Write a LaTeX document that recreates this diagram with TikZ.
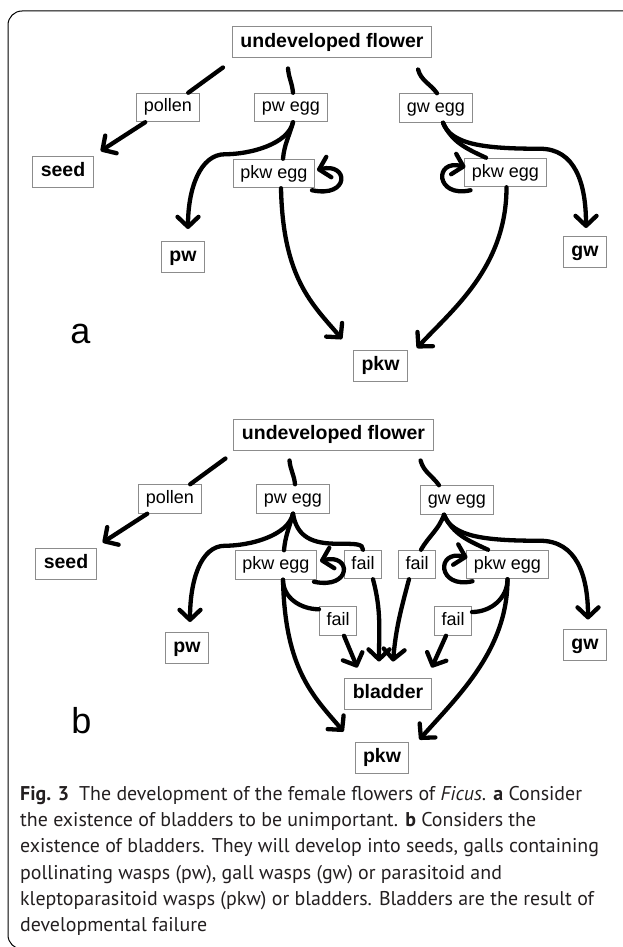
\documentclass[tikz,border=0pt]{standalone}
\usepackage{fontspec}
\usepackage{tikz}
\usetikzlibrary{arrows.meta}
\newfontfamily\arialfont{Liberation Sans}
\newfontfamily\capfont{PT Sans}
\definecolor{boxgray}{HTML}{8C8C8C}
\definecolor{captext}{HTML}{231F20}

\begin{document}
\begin{tikzpicture}[x=1pt,y=1pt,
  box/.style={draw=boxgray, line width=1pt, fill=white, inner xsep=7pt, inner ysep=5.75pt,
    text height=13pt, text depth=4pt, font=\arialfont\fontsize{18}{20}\selectfont},
  bbox/.style={box, inner xsep=8pt, inner ysep=6.4pt, text height=14pt, text depth=4.2pt,
    font=\arialfont\bfseries\fontsize{19.5}{22}\selectfont},
  conn/.style={line width=4.3pt, line cap=round},
  arr/.style={conn, -{Straight Barb[length=10pt,width=21pt,round]}},
  panel/.style={anchor=base, font=\arialfont\fontsize{36}{40}\selectfont}]

\useasboundingbox (0,0) rectangle (622,-947);
\draw[line width=1pt, rounded corners=14pt] (640,-11) -- (8,-11) -- (8,-949) -- (640,-949); % frame

% Panel a: bladders left out
\node[bbox] (a flower) at (332,-42.5) {undeveloped flower};
\node[box] (a pollen) at (168,-107.5) {pollen};
\node[box] (a pwegg) at (291,-107.5) {pw egg};
\node[box] (a gwegg) at (436,-108) {gw egg};
\node[bbox] (a seed) at (63,-172) {seed};
\node[box] (a pkwegg1) at (274,-173.5) {pkw egg};
\node[box] (a pkwegg2) at (505.5,-172.5) {pkw egg};
\node[bbox] (a pw) at (183,-257) {pw};
\node[bbox] (a gw) at (585,-252) {gw};
\node[bbox] (a pkw) at (380.5,-366) {pkw};
\node[panel] (a label) at (80.5,-343) {a};

\draw[conn] ([shift={(-9,-9)}]a flower.south west) -- (a pollen); % pollination
\draw[arr] (a pollen) -- ([shift={(7,5)}]a seed.north east);
\draw[conn] ([shift={(-44,-10)}]a flower.south) to[out=-85,in=95] ([xshift=2pt]a pwegg.north);
\draw[arr] ([xshift=2pt]a pwegg.south) .. controls +(-5,-22) and +(25,0) .. ++(-68,-32)
  .. controls +(-25,0) and +(0,40) .. ([shift={(5,12)}]a pw.north);
\draw[conn] ([xshift=2pt]a pwegg.south) to[out=-105,in=85] ([xshift=9pt]a pkwegg1.north);
\draw[arr] ([xshift=7pt]a pkwegg1.south) .. controls +(2,-90) and +(-30,35) .. ([shift={(-11,11)}]a pkw.north west);
\draw[arr] ([shift={(-3,-2)}]a pkwegg1.south east) .. controls +(38,-8) and +(32,8) .. ([shift={(2,3.5)}]a pkwegg1.east); % loop
\draw[conn] ([shift={(-14,-11)}]a flower.south east) to[out=-75,in=125] ([xshift=1pt]a gwegg.north);
\draw[arr] ([xshift=7pt]a gwegg.south) .. controls +(8,-22) and +(-55,0) .. ++(97,-26)
  .. controls +(35,0) and +(0,45) .. ([shift={(1,8)}]a gw.north);
\draw[conn] ([xshift=7pt]a gwegg.south) to[out=-65,in=155] ([xshift=-19.5pt]a pkwegg2.north);
\draw[arr] ([xshift=1pt]a pkwegg2.south) .. controls +(0,-80) and +(35,38) .. ([shift={(9,2)}]a pkw.north east);
\draw[arr] ([shift={(6,-3)}]a pkwegg2.south west) .. controls +(-35,-8) and +(-32,8) .. ([shift={(1,5.5)}]a pkwegg2.west); % loop

% Panel b: with bladders
\node[bbox] (b flower) at (333.5,-434.5) {undeveloped flower};
\node[box] (b pollen) at (170,-499) {pollen};
\node[box] (b pwegg) at (293,-499) {pw egg};
\node[box] (b gwegg) at (457,-500) {gw egg};
\node[bbox] (b seed) at (66,-563.5) {seed};
\node[box] (b pkwegg1) at (276,-565) {pkw egg};
\node[box] (b fail1) at (363,-564.5) {fail};
\node[box] (b fail2) at (417,-564.5) {fail};
\node[box] (b pkwegg2) at (507.5,-564.5) {pkw egg};
\node[box] (b fail3) at (338,-621) {fail};
\node[box] (b fail4) at (453,-621) {fail};
\node[bbox] (b pw) at (187,-648) {pw};
\node[bbox] (b gw) at (585,-644.5) {gw};
\node[bbox] (b bladder) at (388,-693.5) {bladder};
\node[bbox] (b pkw) at (382,-757.5) {pkw};
\node[panel] (b label) at (81.5,-733) {b};

\draw[conn] ([shift={(-8,-8)}]b flower.south west) -- (b pollen); % pollination
\draw[arr] (b pollen) -- ([shift={(6,5)}]b seed.north east);
\draw[conn] ([shift={(-44,-10)}]b flower.south) to[out=-85,in=95] ([xshift=2pt]b pwegg.north);
\draw[arr] (b pwegg.south) .. controls +(-5,-22) and +(25,0) .. ++(-68,-32)
  .. controls +(-25,0) and +(0,40) .. ([shift={(3,10)}]b pw.north);
\draw[conn] (b pwegg.south) to[out=-105,in=85] ([xshift=8pt]b pkwegg1.north);
\draw[conn] (b pwegg.south) .. controls +(4,-24) and +(-25,0) .. ++(45,-30)
  .. controls +(18,0) and +(0,6) .. (b fail1.north);
\draw[arr] ([xshift=7pt]b pkwegg1.south) .. controls +(2,-90) and +(-30,35) .. ([shift={(-11,10)}]b pkw.north west);
\draw[conn] ([xshift=7pt]b pkwegg1.south) to[out=-90,in=180] ([yshift=-3pt]b fail3.north west);
\draw[arr] ([shift={(-3,-2)}]b pkwegg1.south east) .. controls +(38,-8) and +(32,8) .. ([shift={(3,4)}]b pkwegg1.east); % loop
\draw[arr] ([xshift=6pt]b fail3.south) -- ([shift={(13,10)}]b bladder.north west);
\draw[arr] ([xshift=10pt]b fail1.south) to[out=-75,in=90] ([shift={(-9,16)}]b bladder.north);
\draw[arr] ([xshift=-8pt]b fail2.south) to[out=-105,in=85] ([shift={(5,16)}]b bladder.north);
\draw[conn] ([shift={(-13,-10)}]b flower.south east) to[out=-75,in=125] ([xshift=-18pt]b gwegg.north);
\draw[conn] ([xshift=-13pt]b gwegg.south) to[out=-110,in=60] ([xshift=4pt]b fail2.north);
\draw[conn] ([xshift=-13pt]b gwegg.south) to[out=-65,in=155] ([xshift=-19.5pt]b pkwegg2.north);
\draw[arr] ([xshift=-13pt]b gwegg.south) .. controls +(8,-22) and +(-55,0) .. ++(96,-26)
  .. controls +(36,0) and +(0,45) .. ([shift={(3,9)}]b gw.north);
\draw[conn] (b pkwegg2.south) to[out=-90,in=0] ([yshift=9pt]b fail4.east);
\draw[arr] (b pkwegg2.south) .. controls +(0,-70) and +(40,45) .. ([shift={(10,2)}]b pkw.north east);
\draw[arr] ([xshift=-7pt]b fail4.south) -- ([yshift=10pt]b bladder.north east);
\draw[arr] ([shift={(6,-2)}]b pkwegg2.south west) .. controls +(-35,-8) and +(-32,8) .. ([shift={(1,7)}]b pkwegg2.west); % loop

% Caption
\node[anchor=north west, align=left, inner sep=0pt, text=captext,
  font=\capfont\fontsize{19.9}{26.3}\selectfont] (caption) at (20,-786)
  {\textbf{Fig. 3}\hspace{0.5em}The development of the female flowers of \textit{Ficus}. \textbf{a} Consider\\
   the existence of bladders to be unimportant. \textbf{b} Considers the\\
   existence of bladders. They will develop into seeds, galls containing\\
   pollinating wasps (pw), gall wasps (gw) or parasitoid and\\
   kleptoparasitoid wasps (pkw) or bladders. Bladders are the result of\\
   developmental failure};
\end{tikzpicture}
\end{document}
